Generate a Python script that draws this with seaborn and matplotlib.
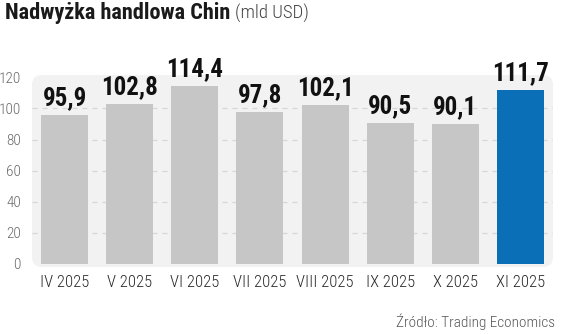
import matplotlib
matplotlib.use("Agg")
import matplotlib.pyplot as plt
from matplotlib.patches import FancyBboxPatch
from matplotlib import font_manager
from matplotlib.font_manager import FontProperties
import seaborn as sns
import pandas as pd

months = ["IV 2025", "V 2025", "VI 2025", "VII 2025", "VIII 2025", "IX 2025", "X 2025", "XI 2025"]
values = [95.9, 102.8, 114.4, 97.8, 102.1, 90.5, 90.1, 111.7]
value_labels = ["95,9", "102,8", "114,4", "97,8", "102,1", "90,5", "90,1", "111,7"]
yticks = [0, 20, 40, 60, 80, 100, 120]
bar_colors = ["#c6c6c6"] * 7 + ["#0a6fb6"]

sns.set_theme(style="white")
plt.rcParams['font.family'] = ['Roboto', 'DejaVu Sans']


def wnum(w):
    if isinstance(w, (int, float)):
        return w
    return font_manager.weight_dict.get(str(w), 400)


def find_condensed(bold, light=False):
    prefs = ["Roboto", "Noto Sans", "Open Sans", "Liberation Sans", "DejaVu Sans", "Lato", "Inter"]
    best = None
    for f in font_manager.fontManager.ttflist:
        nm = f.name + " " + f.fname
        cond = (str(f.stretch) in ("condensed", "semi-condensed", "extra-condensed", "ultra-condensed")
                or "Condensed" in nm or "Narrow" in nm)
        if not cond:
            continue
        if f.style != "normal" or "Italic" in f.fname or "Oblique" in f.fname:
            continue
        w = wnum(f.weight)
        target = 700 if bold else (300 if light else 400)
        score = abs(w - target)
        fam = next((i for i, p in enumerate(prefs) if f.name.startswith(p)), len(prefs))
        key = (score, fam)
        if best is None or key < best[0]:
            best = (key, f.fname)
    return best[1] if best else None


bold_path = find_condensed(True)
reg_path = find_condensed(False)
light_path = find_condensed(False, light=True) or reg_path


def fp(path, size, weight="normal"):
    if path:
        return FontProperties(fname=path, size=size)
    return FontProperties(family=["Roboto", "DejaVu Sans"], size=size, weight=weight)


df = pd.DataFrame({"month": months, "value": values})

fig = plt.figure(figsize=(5.64, 3.34), dpi=100)
W, H = 564, 334
x0, x1, ytop, ybot = 32, 553, 75, 267
ax = fig.add_axes([x0 / W, 1 - ybot / H, (x1 - x0) / W, (ybot - ytop) / H])
ax.set_facecolor("none")

bg = FancyBboxPatch((x0 / 100, (H - ybot) / 100), (x1 - x0) / 100, (ybot - ytop) / 100,
                    boxstyle="round,pad=0,rounding_size=0.1",
                    transform=fig.dpi_scale_trans, facecolor="#f2f2f2", edgecolor="none", zorder=-10)
fig.patches.append(bg)

for t in yticks[1:-1]:
    ax.axhline(t, color="#d6d6d6", lw=0.9, ls=(0, (4, 4)), zorder=0)

sns.barplot(data=df, x="month", y="value", hue="month", palette=bar_colors,
            legend=False, width=0.72, ax=ax, zorder=2, saturation=1, linewidth=0)

for i, (v, lab) in enumerate(zip(values, value_labels)):
    ax.text(i, v + 3.0, lab, ha="center", va="bottom", fontproperties=fp(bold_path, 18, "bold"),
            color="#111111", zorder=3)

ax.set_xlim(-0.5, 7.5)
ax.set_ylim(-2, 121.5)
ax.set_yticks(yticks)
ax.set_yticklabels([str(t) for t in yticks], color="#6a6a6a")
for lbl in ax.get_yticklabels():
    lbl.set_fontproperties(fp(light_path, 11))
    lbl.set_horizontalalignment("right")
ax.tick_params(axis="y", length=0, pad=8)
ax.tick_params(axis="x", length=0, pad=6, labelcolor="#2a2a2a")
for lbl in ax.get_xticklabels():
    lbl.set_fontproperties(fp(light_path, 12))
ax.set_xlabel("")
ax.set_ylabel("")
for s in ax.spines.values():
    s.set_visible(False)

t1 = fig.text(5 / W, 1 - 13 / H, "Nadwyżka handlowa Chin", fontproperties=fp(bold_path, 16, "bold"),
              color="#1a1a1a", va="center", ha="left")
fig.canvas.draw()
ext = t1.get_window_extent()
fig.text((ext.x1 + 5) / W, 1 - 13 / H, "(mld USD)", fontproperties=fp(light_path, 13.5),
         color="#444444", va="center", ha="left")
fig.text(555 / W, 1 - 322 / H, "Źródło: Trading Economics", fontproperties=fp(light_path, 11),
         color="#555555", va="center", ha="right")

fig.savefig("out.png", dpi=100)
